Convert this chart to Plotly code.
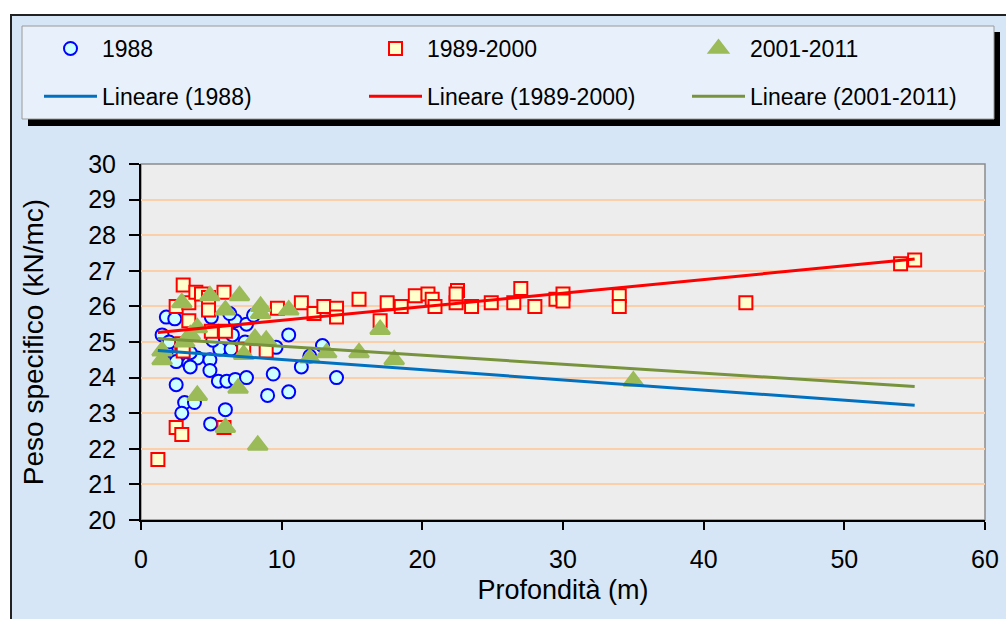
import plotly.graph_objects as go

# ---------------- data ----------------
x_1988 = [1.5, 1.8, 2.4, 1.8, 2.5, 3.4, 4.0, 4.9, 5.6, 6.4, 3.5, 4.9, 2.5, 3.1, 3.8,
          2.9, 5.5, 6.1, 6.0, 4.95, 6.7, 7.5, 9.4, 9.0, 10.5, 11.4, 12.0, 12.9, 13.9,
          10.5, 9.6, 7.4, 6.5, 6.7, 7.5, 8.0, 6.3, 5.1, 4.8, 3.5, 5.0, 2.0]
y_1988 = [25.2, 25.7, 25.65, 24.75, 24.45, 24.4, 24.55, 24.5, 24.8, 24.8, 24.3, 24.2, 23.8, 23.3, 23.3,
          23.0, 23.9, 23.9, 23.1, 22.7, 23.95, 24.0, 24.1, 23.5, 23.6, 24.3, 24.6, 24.9, 24.0,
          25.2, 24.85, 25.0, 25.2, 25.6, 25.5, 25.75, 25.8, 25.05, 25.85, 24.7, 25.7, 25.0]

x_1989_2000 = [1.2, 2.5, 2.9, 3.0, 2.5, 3.4, 3.9, 4.3, 4.8, 4.8, 3.4, 5.0, 6.0, 5.9, 5.9,
               2.9, 3.0, 7.3, 8.9, 9.7, 11.4, 12.3, 13.0, 13.9, 13.9, 15.5, 17.0, 17.5, 18.5,
               19.5, 20.4, 20.7, 20.9, 22.4, 22.5, 22.4, 23.5, 24.9, 26.5, 27.0, 28.0, 29.5,
               30.0, 30.0, 34.0, 34.0, 43.0, 54.0, 55.0]
y_1989_2000 = [21.7, 22.6, 22.4, 26.6, 26.0, 26.1, 26.4, 26.35, 26.25, 25.9, 25.6, 25.3, 25.3, 26.4, 22.6,
               24.95, 24.75, 24.8, 24.75, 25.95, 26.1, 25.8, 26.0, 25.95, 25.7, 26.2, 25.6, 26.1, 26.0,
               26.3, 26.35, 26.2, 26.0, 26.1, 26.45, 26.35, 26.0, 26.1, 26.1, 26.5, 26.0, 26.2,
               26.35, 26.15, 26.3, 26.0, 26.1, 27.2, 27.3]

x_2001_2011 = [1.5, 1.5, 2.9, 3.1, 3.5, 4.0, 4.0, 4.9, 6.0, 6.0, 7.0, 6.9, 7.3, 8.1, 8.5,
               8.5, 8.9, 8.3, 10.5, 12.0, 13.2, 15.5, 17.0, 18.0, 35.0]
y_2001_2011 = [24.75, 24.5, 26.1, 25.0, 25.2, 25.4, 23.5, 26.3, 25.9, 22.6, 26.3, 23.7, 24.65, 25.1, 26.0,
               25.8, 25.05, 22.1, 25.9, 24.55, 24.7, 24.7, 25.35, 24.5, 23.9]

# linear trend lines (end points)
trend_x = [1.2, 55.0]
trend_1988 = [24.76, 23.22]
trend_1989_2000 = [25.27, 27.33]
trend_2001_2011 = [25.10, 23.75]

x_ticks = [0, 10, 20, 30, 40, 50, 60]
y_ticks = [20, 21, 22, 23, 24, 25, 26, 27, 28, 29, 30]

# ---------------- layout geometry ----------------
W, H = 1006, 619
ML, MR, MT, MB = 141, 21, 164, 99
PW, PH = W - ML - MR, H - MT - MB


def px(v):
    return (v - ML) / PW


def py(v):
    return (H - MB - v) / PH


FONT = "Liberation Sans, Arial, sans-serif"

fig = go.Figure()

fig.add_trace(go.Scatter(
    x=x_1988, y=y_1988, mode="markers", name="1988",
    legend="legend", legendgroup="a",
    marker=dict(symbol="circle", size=13, color="#ccffff",
                line=dict(color="#0000ff", width=2))))
fig.add_trace(go.Scatter(
    x=x_1989_2000, y=y_1989_2000, mode="markers", name="1989-2000",
    legend="legend2", legendgroup="b",
    marker=dict(symbol="square", size=13, color="#ffffcc",
                line=dict(color="#ff0000", width=2))))
fig.add_trace(go.Scatter(
    x=x_2001_2011, y=y_2001_2011, mode="markers", name="2001-2011",
    legend="legend3", legendgroup="c",
    marker=dict(symbol="triangle-up", size=17, color="#9bbb59",
                line=dict(color="#9bbb59", width=2.5))))

fig.add_trace(go.Scatter(
    x=trend_x, y=trend_1988, mode="lines", name="Lineare (1988)",
    legend="legend", legendgroup="d",
    line=dict(color="#0070c0", width=3)))
fig.add_trace(go.Scatter(
    x=trend_x, y=trend_1989_2000, mode="lines", name="Lineare (1989-2000)",
    legend="legend2", legendgroup="e",
    line=dict(color="#ff0000", width=3)))
fig.add_trace(go.Scatter(
    x=trend_x, y=trend_2001_2011, mode="lines", name="Lineare (2001-2011)",
    legend="legend3", legendgroup="f",
    line=dict(color="#77933c", width=3)))

shapes = [
    # outer chart frame
    dict(type="rect", xref="paper", yref="paper", layer="below",
         x0=px(11), x1=px(1012), y0=py(630), y1=py(15),
         fillcolor="#d6e6f6", line=dict(color="#222222", width=2)),
    # legend shadow
    dict(type="rect", xref="paper", yref="paper", layer="below",
         x0=px(28), x1=px(1000), y0=py(126), y1=py(32),
         fillcolor="#000000", line=dict(width=0)),
    # legend box
    dict(type="rect", xref="paper", yref="paper", layer="below",
         x0=px(22), x1=px(994), y0=py(119), y1=py(26),
         fillcolor="#e8f1fb", line=dict(color="#9a9a9a", width=1)),
    # plot area
    dict(type="rect", xref="paper", yref="paper", layer="below",
         x0=0, x1=1, y0=0, y1=1,
         fillcolor="#ededed", line=dict(color="#8c8c8c", width=1.5)),
]

leg_common = dict(
    orientation="v", xanchor="left", yanchor="top",
    bgcolor="rgba(0,0,0,0)", borderwidth=0,
    font=dict(family=FONT, size=23, color="#000000"),
    itemwidth=53, tracegroupgap=15, traceorder="grouped",
)

fig.update_layout(
    width=W, height=H,
    margin=dict(l=ML, r=MR, t=MT, b=MB, autoexpand=False),
    paper_bgcolor="#ffffff",
    plot_bgcolor="rgba(0,0,0,0)",
    font=dict(family=FONT, color="#000000"),
    shapes=shapes,
    legend=dict(x=px(39), y=py(27), **leg_common),
    legend2=dict(x=px(364), y=py(27), **leg_common),
    legend3=dict(x=px(687), y=py(27), **leg_common),
    xaxis=dict(
        range=[0, 60], tickvals=x_ticks, showgrid=False, zeroline=False,
        showline=True, linecolor="#000000", linewidth=2,
        ticks="outside", ticklen=8, tickwidth=1.5, tickcolor="#000000",
        ticklabelstandoff=8,
        tickfont=dict(family=FONT, size=25),
        title=dict(text="Profondità (m)", font=dict(family=FONT, size=27), standoff=8),
    ),
    yaxis=dict(
        range=[20, 30], tickvals=y_ticks, showgrid=True, gridcolor="#fbd0a8", gridwidth=1.5,
        zeroline=False, showline=True, linecolor="#000000", linewidth=2,
        ticks="outside", ticklen=10, tickwidth=1.5, tickcolor="#000000",
        ticklabelstandoff=8,
        tickfont=dict(family=FONT, size=25),
        title=dict(text="Peso specifico (kN/mc)", font=dict(family=FONT, size=28), standoff=36),
    ),
)

fig.write_html("out.html")
